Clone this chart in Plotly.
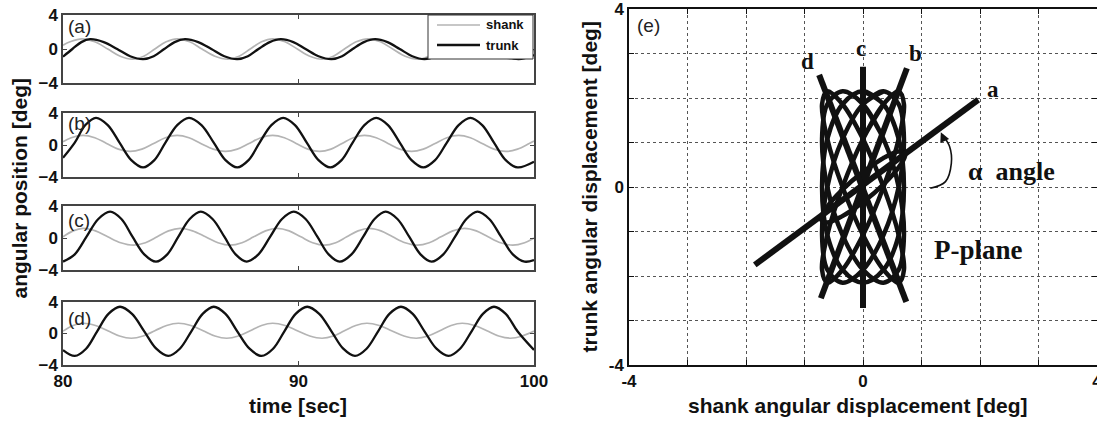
import plotly.graph_objects as go

W, H = 1097, 423

# ---------------- time-series points ----------------
a_shank_t = [80.0, 80.3, 80.8, 81.35, 81.9, 82.43, 82.95, 83.43, 83.9, 84.38, 84.85, 85.38, 85.9, 86.45, 87.0, 87.48, 87.95, 88.43, 88.9, 89.43, 89.95, 90.48, 91.0, 91.48, 91.95, 92.45, 92.95, 93.48, 94.0, 94.53, 95.05, 95.53, 96.0, 96.5, 97.0, 97.53, 98.05, 98.58, 99.1, 99.6, 100.0]
a_shank_y = [0.45, 0.85, 1.2, 0.85, 0.0, -0.85, -1.2, -0.85, 0.0, 0.85, 1.2, 0.85, 0.0, -0.85, -1.2, -0.85, 0.0, 0.85, 1.2, 0.85, 0.0, -0.85, -1.2, -0.85, 0.0, 0.85, 1.2, 0.85, 0.0, -0.85, -1.2, -0.85, 0.0, 0.85, 1.2, 0.85, 0.0, -0.85, -1.2, -0.85, -0.1]
a_trunk_t = [80.0, 80.4, 80.78, 81.15, 81.73, 82.3, 82.85, 83.4, 83.85, 84.3, 84.74, 85.18, 85.74, 86.3, 86.85, 87.4, 87.85, 88.3, 88.78, 89.25, 89.78, 90.3, 90.85, 91.4, 91.85, 92.3, 92.78, 93.25, 93.78, 94.3, 94.83, 95.35, 95.83, 96.3, 96.8, 97.3, 97.8, 98.3, 98.83, 99.35, 100.0]
a_trunk_y = [-0.9, 0.0, 0.81, 1.15, 0.81, 0.0, -0.85, -1.2, -0.85, 0.0, 0.81, 1.15, 0.81, 0.0, -0.85, -1.2, -0.85, 0.0, 0.81, 1.15, 0.81, 0.0, -0.85, -1.2, -0.85, 0.0, 0.81, 1.15, 0.81, 0.0, -0.85, -1.2, -0.85, 0.0, 0.81, 1.15, 0.81, 0.0, -0.85, -1.2, -0.7]

b_shank_t = [80.0, 80.35, 80.85, 81.35, 81.85, 82.35, 82.85, 83.35, 83.85, 84.35, 84.85, 85.35, 85.85, 86.38, 86.9, 87.4, 87.9, 88.4, 88.9, 89.4, 89.9, 90.4, 90.9, 91.38, 91.85, 92.33, 92.8, 93.3, 93.8, 94.3, 94.8, 95.3, 95.8, 96.3, 96.8, 97.3, 97.8, 98.3, 98.8, 99.3, 99.8, 100.0]
b_shank_y = [0.4, 0.91, 1.2, 0.91, 0.2, -0.51, -0.8, -0.51, 0.2, 0.91, 1.2, 0.91, 0.2, -0.51, -0.8, -0.51, 0.2, 0.91, 1.2, 0.91, 0.2, -0.51, -0.8, -0.51, 0.2, 0.91, 1.2, 0.91, 0.2, -0.51, -0.8, -0.51, 0.2, 0.91, 1.2, 0.91, 0.2, -0.51, -0.8, -0.51, 0.2, 0.5]
b_trunk_t = [80.0, 80.5, 80.95, 81.4, 81.9, 82.4, 82.9, 83.4, 83.88, 84.35, 84.85, 85.35, 85.88, 86.4, 86.9, 87.4, 87.88, 88.35, 88.85, 89.35, 89.85, 90.35, 90.85, 91.35, 91.83, 92.3, 92.8, 93.3, 93.8, 94.3, 94.8, 95.3, 95.8, 96.3, 96.8, 97.3, 97.8, 98.3, 98.8, 99.3, 100.0]
b_trunk_y = [-1.6, 0.3, 2.49, 3.4, 2.49, 0.3, -1.89, -2.8, -1.89, 0.3, 2.49, 3.4, 2.49, 0.3, -1.89, -2.8, -1.89, 0.3, 2.49, 3.4, 2.49, 0.3, -1.89, -2.8, -1.89, 0.3, 2.49, 3.4, 2.49, 0.3, -1.89, -2.8, -1.89, 0.3, 2.49, 3.4, 2.49, 0.3, -1.89, -2.8, -2.1]

c_shank_t = [80.0, 80.43, 80.85, 81.38, 81.9, 82.45, 83.0, 83.5, 84.0, 84.48, 84.97, 85.5, 86.05, 86.58, 87.1, 87.6, 88.1, 88.6, 89.1, 89.6, 90.1, 90.6, 91.1, 91.58, 92.05, 92.53, 93.0, 93.5, 94.0, 94.53, 95.05, 95.55, 96.05, 96.55, 97.05, 97.55, 98.05, 98.58, 99.1, 99.6, 100.0]
c_shank_y = [0.15, 0.89, 1.2, 0.89, 0.15, -0.59, -0.9, -0.59, 0.15, 0.89, 1.2, 0.89, 0.15, -0.59, -0.9, -0.59, 0.15, 0.89, 1.2, 0.89, 0.15, -0.59, -0.9, -0.59, 0.15, 0.89, 1.2, 0.89, 0.15, -0.59, -0.9, -0.59, 0.15, 0.89, 1.2, 0.89, 0.15, -0.59, -0.9, -0.59, 0.0]
c_trunk_t = [80.0, 80.5, 81.0, 81.5, 82.0, 82.48, 82.95, 83.45, 83.95, 84.43, 84.9, 85.38, 85.85, 86.35, 86.85, 87.33, 87.8, 88.3, 88.8, 89.3, 89.8, 90.3, 90.8, 91.28, 91.75, 92.25, 92.75, 93.23, 93.7, 94.2, 94.7, 95.18, 95.65, 96.15, 96.65, 97.13, 97.6, 98.1, 98.6, 99.1, 99.6, 100.0]
c_trunk_y = [-2.95, -2.04, 0.17, 2.38, 3.3, 2.38, 0.17, -2.04, -2.95, -2.04, 0.17, 2.38, 3.3, 2.38, 0.17, -2.04, -2.95, -2.04, 0.17, 2.38, 3.3, 2.38, 0.17, -2.04, -2.95, -2.04, 0.17, 2.38, 3.3, 2.38, 0.17, -2.04, -2.95, -2.04, 0.17, 2.38, 3.3, 2.38, 0.17, -2.04, -2.95, -2.75]

d_shank_t = [80.0, 80.43, 80.85, 81.38, 81.9, 82.4, 82.9, 83.4, 83.9, 84.4, 84.9, 85.43, 85.95, 86.45, 86.95, 87.45, 87.95, 88.43, 88.9, 89.43, 89.95, 90.48, 91.0, 91.48, 91.95, 92.43, 92.9, 93.43, 93.95, 94.48, 95.0, 95.5, 96.0, 96.48, 96.95, 97.48, 98.0, 98.5, 99.0, 99.5, 100.0]
d_shank_y = [0.3, 1.02, 1.3, 1.02, 0.35, -0.32, -0.6, -0.32, 0.35, 1.02, 1.3, 1.02, 0.35, -0.32, -0.6, -0.32, 0.35, 1.02, 1.3, 1.02, 0.35, -0.32, -0.6, -0.32, 0.35, 1.02, 1.3, 1.02, 0.35, -0.32, -0.6, -0.32, 0.35, 1.02, 1.3, 1.02, 0.35, -0.32, -0.6, -0.32, 0.3]
d_trunk_t = [80.0, 80.5, 80.98, 81.45, 81.93, 82.42, 82.93, 83.45, 83.96, 84.47, 84.96, 85.45, 85.93, 86.4, 86.9, 87.4, 87.92, 88.43, 88.92, 89.4, 89.88, 90.37, 90.88, 91.4, 91.9, 92.4, 92.89, 93.38, 93.86, 94.35, 94.85, 95.35, 95.86, 96.37, 96.86, 97.35, 97.83, 98.3, 98.8, 99.3, 100.0]
d_trunk_y = [-2.1, -2.85, -1.93, 0.28, 2.49, 3.4, 2.49, 0.28, -1.93, -2.85, -1.93, 0.28, 2.49, 3.4, 2.49, 0.28, -1.93, -2.85, -1.93, 0.28, 2.49, 3.4, 2.49, 0.28, -1.93, -2.85, -1.93, 0.28, 2.49, 3.4, 2.49, 0.28, -1.93, -2.85, -1.93, 0.28, 2.49, 3.4, 2.49, 0.28, -2.1]

time_ticks = [80, 90, 100]
pos_ticks = [-4, 0, 4]
legend_names = ["shank", "trunk"]

# ---------------- P-plane (e) data ----------------
loop_shank = [0.00, 0.35, 0.61, 0.70, 0.61, 0.35, 0.00, -0.35, -0.61, -0.70, -0.61, -0.35]
loop_trunk_1 = [1.08, 1.86, 2.15, 1.86, 1.08, 0.00, -1.08, -1.86, -2.15, -1.86, -1.08, 0.00]
loop_trunk_2 = [1.86, 2.15, 1.86, 1.08, 0.00, -1.08, -1.86, -2.15, -1.86, -1.08, 0.00, 1.08]
loop_trunk_3 = [2.15, 1.86, 1.08, 0.00, -1.08, -1.86, -2.15, -1.86, -1.08, 0.00, 1.08, 1.86]
loop_trunk_4 = [1.86, 1.08, 0.00, -1.08, -1.86, -2.15, -1.86, -1.08, 0.00, 1.08, 1.86, 2.15]
loop_trunk_5 = [1.08, 0.00, -1.08, -1.86, -2.15, -1.86, -1.08, 0.00, 1.08, 1.86, 2.15, 1.86]
loop_a_shank = [0.00, 0.36, 0.62, 0.72, 0.62, 0.36, 0.00, -0.36, -0.62, -0.72, -0.62, -0.36]
loop_a_trunk = [0.34, 0.66, 0.80, 0.72, 0.46, 0.07, -0.34, -0.66, -0.80, -0.72, -0.46, -0.07]

line_a_x = [-1.85, 1.97]
line_a_y = [-1.75, 1.96]
line_b_x = [-0.72, 0.75]
line_b_y = [-2.50, 2.67]
line_c_x = [0.0, 0.0]
line_c_y = [-2.72, 2.70]
line_d_x = [-0.75, 0.74]
line_d_y = [2.52, -2.58]

arrow_x = [1.15, 1.41, 1.51, 1.48, 1.36]
arrow_y = [-0.03, 0.12, 0.53, 0.91, 1.17]

line_labels = ["a", "b", "c", "d"]
label_x = [2.23, 0.90, -0.03, -0.95]
label_y = [2.18, 3.00, 3.12, 2.81]

grid_ticks = [-4, -3, -2, -1, 0, 1, 2, 3, 4]
grid_text = ["-4", "", "", "", "0", "", "", "", "4"]

# ---------------- figure ----------------
SANS = "Liberation Sans"
SERIF = "Liberation Serif"
SHANK_C = "#b4b4b4"
TRUNK_C = "#111111"


def px(x):
    return x / W


def py(y):
    return 1 - y / H


fig = go.Figure()

panels = [
    ("(a)", a_shank_t, a_shank_y, a_trunk_t, a_trunk_y, "x", "y", (15, 83), 27),
    ("(b)", b_shank_t, b_shank_y, b_trunk_t, b_trunk_y, "x2", "y2", (113, 177), 124),
    ("(c)", c_shank_t, c_shank_y, c_trunk_t, c_trunk_y, "x3", "y3", (206, 270), 220),
    ("(d)", d_shank_t, d_shank_y, d_trunk_t, d_trunk_y, "x4", "y4", (302, 365), 318),
]

tick_font = dict(family=SANS, size=17, color="#111", weight="bold")
annotations = []
shapes = []
layout_axes = {}
for i, (lab, st, sy, tt, ty, xa, ya, (top, bot), laby) in enumerate(panels):
    fig.add_trace(go.Scatter(x=st, y=sy, mode="lines", name=legend_names[0], showlegend=False,
                             line=dict(color=SHANK_C, width=1.7, shape="spline", smoothing=1.0),
                             xaxis=xa, yaxis=ya, hoverinfo="skip"))
    fig.add_trace(go.Scatter(x=tt, y=ty, mode="lines", name=legend_names[1], showlegend=False,
                             line=dict(color=TRUNK_C, width=2.3, shape="spline", smoothing=1.0),
                             xaxis=xa, yaxis=ya, hoverinfo="skip"))
    xkey = "xaxis" if xa == "x" else "xaxis" + xa[1:]
    ykey = "yaxis" if ya == "y" else "yaxis" + ya[1:]
    layout_axes[xkey] = dict(domain=[px(63), px(534)], range=[80, 100], anchor=ya,
                             tickvals=time_ticks, showticklabels=(i == 3), automargin=False,
                             ticks="inside", ticklen=4, tickcolor="#444", mirror="ticks",
                             showline=True, linecolor="#444", linewidth=1.5,
                             showgrid=False, zeroline=False, tickfont=tick_font)
    layout_axes[ykey] = dict(domain=[py(bot), py(top)], range=[-4, 4], anchor=xa,
                             tickvals=pos_ticks, ticks="inside", ticklen=4, tickcolor="#444",
                             mirror="ticks", showline=True, linecolor="#444", linewidth=1.5,
                             showgrid=False, zeroline=False, automargin=False, tickfont=tick_font)
    annotations.append(dict(text=lab, x=px(66), y=py(laby), xref="paper", yref="paper",
                            xanchor="left", yanchor="middle", showarrow=False,
                            font=dict(family=SANS, size=19, color="#222")))

# legend box for panel (a), drawn as decoration
shapes.append(dict(type="rect", xref="paper", yref="paper", x0=px(428), x1=px(533), y0=py(59), y1=py(15),
                   fillcolor="white", line=dict(color="#333", width=1), layer="above"))
for k, (name, col, wd, yy) in enumerate([(legend_names[0], SHANK_C, 1.7, 25), (legend_names[1], TRUNK_C, 2.5, 45)]):
    shapes.append(dict(type="line", xref="paper", yref="paper", x0=px(437), x1=px(480), y0=py(yy), y1=py(yy),
                       line=dict(color=col, width=wd), layer="above"))
    annotations.append(dict(text=name, x=px(484), y=py(yy), xref="paper", yref="paper",
                            xanchor="left", yanchor="middle", showarrow=False,
                            font=dict(family=SANS, size=13, color="#111", weight="bold")))

# P-plane loops
for tr in [loop_trunk_1, loop_trunk_2, loop_trunk_3, loop_trunk_4, loop_trunk_5]:
    fig.add_trace(go.Scatter(x=loop_shank + loop_shank[:2], y=tr + tr[:2], mode="lines",
                             line=dict(color="#111111", width=4.5, shape="spline", smoothing=1.0),
                             xaxis="x5", yaxis="y5", showlegend=False, hoverinfo="skip"))
fig.add_trace(go.Scatter(x=loop_a_shank + loop_a_shank[:2], y=loop_a_trunk + loop_a_trunk[:2], mode="lines",
                         line=dict(color="#111111", width=4.5, shape="spline", smoothing=1.0),
                         xaxis="x5", yaxis="y5", showlegend=False, hoverinfo="skip"))
for lx, ly in [(line_a_x, line_a_y), (line_b_x, line_b_y), (line_c_x, line_c_y), (line_d_x, line_d_y)]:
    fig.add_trace(go.Scatter(x=lx, y=ly, mode="lines", line=dict(color="#111111", width=6),
                             xaxis="x5", yaxis="y5", showlegend=False, hoverinfo="skip"))
fig.add_trace(go.Scatter(x=arrow_x, y=arrow_y, mode="lines",
                         line=dict(color="#111111", width=1.6, shape="spline"),
                         xaxis="x5", yaxis="y5", showlegend=False, hoverinfo="skip"))

grid_axis = dict(range=[-4, 4], tickvals=grid_ticks, ticktext=grid_text, automargin=False,
                 ticks="inside", ticklen=5, tickcolor="#111", mirror="ticks",
                 showline=True, linecolor="#111", linewidth=1.5,
                 showgrid=True, gridcolor="#555", griddash="dot", gridwidth=1,
                 zeroline=False, tickfont=tick_font, ticklabeloverflow="allow")
layout_axes["xaxis5"] = dict(domain=[px(629), 1.0], anchor="y5", **grid_axis)
layout_axes["yaxis5"] = dict(domain=[py(365), py(9)], anchor="x5", **grid_axis)

title_font = dict(family=SANS, size=21, color="#111", weight="bold")
annotations += [
    dict(text="(e)", x=px(635), y=py(26), xref="paper", yref="paper", xanchor="left",
         yanchor="middle", showarrow=False, font=dict(family=SANS, size=19, color="#222")),
    dict(text="angular position [deg]", x=px(19), y=py(188.5), xref="paper", yref="paper",
         textangle=-90, showarrow=False, xanchor="center", yanchor="middle", font=title_font),
    dict(text="trunk angular displacement [deg]", x=px(589), y=py(187.5), xref="paper", yref="paper",
         textangle=-90, showarrow=False, xanchor="center", yanchor="middle", font=title_font),
    dict(text="time [sec]", x=px(298), y=py(405), xref="paper", yref="paper",
         showarrow=False, xanchor="center", yanchor="middle", font=title_font),
    dict(text="shank angular displacement [deg]", x=px(858), y=py(405), xref="paper", yref="paper",
         showarrow=False, xanchor="center", yanchor="middle", font=title_font),
    dict(text="\u03b1  angle", x=2.54, y=0.34, xref="x5", yref="y5", showarrow=False,
         xanchor="center", yanchor="middle", font=dict(family=SERIF, size=26, color="#111", weight="bold")),
    dict(text="P-plane", x=1.97, y=-1.42, xref="x5", yref="y5", showarrow=False,
         xanchor="center", yanchor="middle", font=dict(family=SERIF, size=27, color="#111", weight="bold")),
    dict(text="", x=1.33, y=1.23, xref="x5", yref="y5", showarrow=True, ax=4, ay=9,
         arrowhead=2, arrowsize=1.2, arrowwidth=1.6, arrowcolor="#111", standoff=0),
]
for t, lx, ly in zip(line_labels, label_x, label_y):
    annotations.append(dict(text=t, x=lx, y=ly, xref="x5", yref="y5", showarrow=False,
                            xanchor="center", yanchor="middle",
                            font=dict(family=SERIF, size=23, color="#111", weight="bold")))

fig.update_layout(
    width=W, height=H, margin=dict(l=0, r=0, t=0, b=0, autoexpand=False),
    paper_bgcolor="white", plot_bgcolor="white",
    showlegend=False,
    annotations=annotations,
    shapes=shapes,
    **layout_axes,
)

fig.write_html("out.html",
               config={"displayModeBar": False},
               post_script="document.body.style.margin='0px';document.body.style.overflow='hidden';")
